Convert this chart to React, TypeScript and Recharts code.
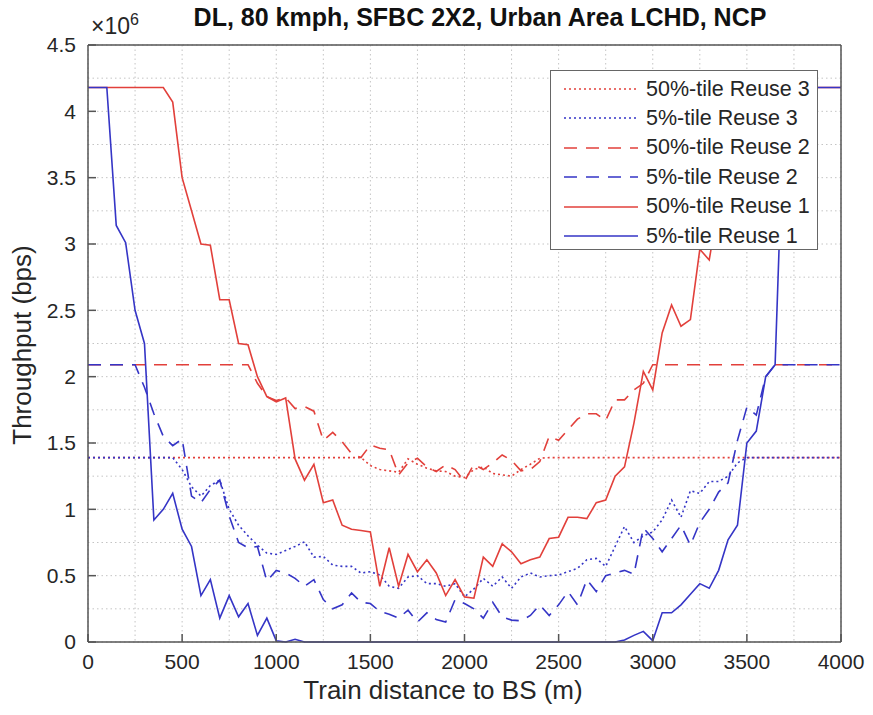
import { CartesianGrid, Line, LineChart, XAxis, YAxis } from "recharts";

const FONT = "'Liberation Sans', Arial, Helvetica, sans-serif";
const RED = "#e2403b";
const BLUE = "#3535c6";

// train distance to BS (m), one sample every 50 m
const DIST = [
  0, 50, 100, 150, 200, 250, 300, 350, 400, 450, 500, 550, 600, 650, 700, 750, 800, 850, 900, 950,
  1000, 1050, 1100, 1150, 1200, 1250, 1300, 1350, 1400, 1450, 1500, 1550, 1600, 1650, 1700, 1750, 1800, 1850, 1900, 1950,
  2000, 2050, 2100, 2150, 2200, 2250, 2300, 2350, 2400, 2450, 2500, 2550, 2600, 2650, 2700, 2750, 2800, 2850, 2900, 2950,
  3000, 3050, 3100, 3150, 3200, 3250, 3300, 3350, 3400, 3450, 3500, 3550, 3600, 3650, 3700, 3750, 3800, 3850, 3900, 3950,
  4000,
];

// throughput, x10^6 bps
const P50_REUSE3 = [
  1.39, 1.39, 1.39, 1.39, 1.39, 1.39, 1.39, 1.39, 1.39, 1.39, 1.39, 1.39, 1.39, 1.39, 1.39, 1.39, 1.39, 1.39, 1.39, 1.39,
  1.39, 1.39, 1.39, 1.39, 1.39, 1.39, 1.39, 1.39, 1.39, 1.39, 1.33, 1.3, 1.29, 1.28, 1.38, 1.34, 1.31, 1.29, 1.285, 1.25,
  1.24, 1.3, 1.32, 1.27, 1.26, 1.25, 1.3, 1.34, 1.385, 1.39, 1.39, 1.39, 1.39, 1.39, 1.39, 1.39, 1.39, 1.39, 1.39, 1.39,
  1.39, 1.39, 1.39, 1.39, 1.39, 1.39, 1.39, 1.39, 1.39, 1.39, 1.39, 1.39, 1.39, 1.39, 1.39, 1.39, 1.39, 1.39, 1.39, 1.39,
  1.39,
];
const P5_REUSE3 = [
  1.39, 1.39, 1.39, 1.39, 1.39, 1.39, 1.39, 1.39, 1.39, 1.39, 1.3, 1.17, 1.1, 1.18, 1.22, 1.0, 0.88, 0.8, 0.73, 0.67,
  0.66, 0.69, 0.72, 0.755, 0.64, 0.645, 0.58, 0.57, 0.57, 0.52, 0.53, 0.505, 0.42, 0.405, 0.49, 0.5, 0.44, 0.44, 0.42, 0.44,
  0.34, 0.4, 0.48, 0.42, 0.49, 0.405, 0.49, 0.52, 0.49, 0.5, 0.505, 0.53, 0.555, 0.62, 0.63, 0.57, 0.72, 0.87, 0.75, 0.8,
  0.83, 0.92, 1.07, 0.94, 1.14, 1.12, 1.21, 1.21, 1.25, 1.35, 1.39, 1.39, 1.39, 1.39, 1.39, 1.39, 1.39, 1.39, 1.39, 1.39,
  1.39,
];
const P50_REUSE2 = [
  2.09, 2.09, 2.09, 2.09, 2.09, 2.09, 2.09, 2.09, 2.09, 2.09, 2.09, 2.09, 2.09, 2.09, 2.09, 2.09, 2.09, 2.09, 1.95, 1.85,
  1.82, 1.84, 1.76, 1.775, 1.74, 1.52, 1.58, 1.51, 1.42, 1.39, 1.485, 1.46, 1.45, 1.26, 1.35, 1.385, 1.32, 1.285, 1.335, 1.3,
  1.21, 1.34, 1.3, 1.35, 1.41, 1.37, 1.29, 1.3, 1.36, 1.55, 1.52, 1.6, 1.68, 1.72, 1.72, 1.67, 1.825, 1.825, 1.9, 1.95,
  2.09, 2.09, 2.09, 2.09, 2.09, 2.09, 2.09, 2.09, 2.09, 2.09, 2.09, 2.09, 2.09, 2.09, 2.09, 2.09, 2.09, 2.09, 2.09, 2.09,
  2.09,
];
const P5_REUSE2 = [
  2.09, 2.09, 2.09, 2.09, 2.09, 2.09, 1.92, 1.72, 1.55, 1.48, 1.53, 1.1, 1.05, 1.15, 1.22, 0.95, 0.75, 0.71, 0.72, 0.46,
  0.54, 0.52, 0.48, 0.42, 0.47, 0.32, 0.25, 0.28, 0.37, 0.3, 0.29, 0.23, 0.21, 0.18, 0.24, 0.15, 0.22, 0.17, 0.15, 0.32,
  0.29, 0.25, 0.18, 0.3, 0.19, 0.165, 0.16, 0.2, 0.28, 0.2, 0.28, 0.38, 0.28, 0.47, 0.38, 0.5, 0.52, 0.54, 0.51, 0.86,
  0.78, 0.68, 0.78, 0.88, 0.73, 0.9, 1.0, 1.13, 1.2, 1.52, 1.77, 1.71, 2.0, 2.09, 2.09, 2.09, 2.09, 2.09, 2.09, 2.09,
  2.09,
];
const P50_REUSE1 = [
  4.18, 4.18, 4.18, 4.18, 4.18, 4.18, 4.18, 4.18, 4.18, 4.07, 3.5, 3.25, 3.0, 2.99, 2.58, 2.58, 2.25, 2.24, 2.0, 1.85,
  1.81, 1.84, 1.38, 1.22, 1.34, 1.05, 1.07, 0.88, 0.85, 0.84, 0.83, 0.42, 0.71, 0.42, 0.66, 0.53, 0.62, 0.52, 0.35, 0.47,
  0.34, 0.33, 0.64, 0.57, 0.74, 0.68, 0.59, 0.62, 0.64, 0.78, 0.79, 0.94, 0.94, 0.93, 1.05, 1.07, 1.25, 1.32, 1.65, 2.04,
  1.9, 2.33, 2.54, 2.38, 2.43, 2.96, 2.88, 3.3, 3.7, 4.05, 4.18, 4.18, 4.18, 4.18, 4.18, 4.18, 4.18, 4.18, 4.18, 4.18,
  4.18,
];
const P5_REUSE1 = [
  4.18, 4.18, 4.18, 3.14, 3.01, 2.5, 2.25, 0.92, 1.0, 1.12, 0.85, 0.72, 0.35, 0.47, 0.18, 0.35, 0.19, 0.29, 0.05, 0.18,
  0.01, 0, 0.02, 0, 0, 0, 0, 0, 0, 0, 0, 0, 0, 0, 0, 0, 0, 0, 0, 0,
  0, 0, 0, 0, 0, 0, 0, 0, 0, 0, 0, 0, 0, 0, 0, 0, 0, 0.015, 0.05, 0.08,
  0.01, 0.22, 0.22, 0.28, 0.36, 0.44, 0.405, 0.54, 0.77, 0.88, 1.5, 1.59, 2.0, 2.09, 4.18, 4.18, 4.18, 4.18, 4.18, 4.18,
  4.18,
];

const X_MAX = 4000;
const Y_MAX = 4.5;
const X_TICKS = [0, 500, 1000, 1500, 2000, 2500, 3000, 3500, 4000];
const Y_TICKS = [0, 0.5, 1, 1.5, 2, 2.5, 3, 3.5, 4, 4.5];
const MINOR_X = [0, 250, 500, 750, 1000, 1250, 1500, 1750, 2000, 2250, 2500, 2750, 3000, 3250, 3500, 3750, 4000];
const MINOR_Y = [0, 0.25, 0.5, 0.75, 1, 1.25, 1.5, 1.75, 2, 2.25, 2.5, 2.75, 3, 3.25, 3.5, 3.75, 4, 4.25, 4.5];

const data = DIST.map((d, i) => ({
  d,
  r3p50: P50_REUSE3[i],
  r3p5: P5_REUSE3[i],
  r2p50: P50_REUSE2[i],
  r2p5: P5_REUSE2[i],
  r1p50: P50_REUSE1[i],
  r1p5: P5_REUSE1[i],
}));

const SERIES = [
  { key: "r3p50", name: "50%-tile Reuse 3", color: RED, dash: "2 3" },
  { key: "r3p5", name: "5%-tile Reuse 3", color: BLUE, dash: "2 3" },
  { key: "r2p50", name: "50%-tile Reuse 2", color: RED, dash: "13 9" },
  { key: "r2p5", name: "5%-tile Reuse 2", color: BLUE, dash: "13 9" },
  { key: "r1p50", name: "50%-tile Reuse 1", color: RED, dash: undefined },
  { key: "r1p5", name: "5%-tile Reuse 1", color: BLUE, dash: undefined },
];

const tickStyle = { fill: "#262626", fontSize: 21, fontFamily: FONT };
const AXIS = "#555";

// minor + major dotted grid, like matlab's grid minor
function gridX({ xAxis, offset }: any) {
  if (xAxis && typeof xAxis.scale === "function") return MINOR_X.map((v) => xAxis.scale(v));
  return MINOR_X.map((v) => offset.left + (offset.width * v) / X_MAX);
}
function gridY({ yAxis, offset }: any) {
  if (yAxis && typeof yAxis.scale === "function") return MINOR_Y.map((v) => yAxis.scale(v));
  return MINOR_Y.map((v) => offset.top + offset.height * (1 - v / Y_MAX));
}

function MatlabLegend() {
  return (
    <div
      style={{
        position: "absolute",
        left: 550,
        top: 70,
        width: 266,
        height: 178,
        background: "#fff",
        border: "1.5px solid #666",
        fontFamily: FONT,
        fontSize: 21.5,
        color: "#262626",
      }}
    >
      {SERIES.map((s, i) => (
        <div key={s.key} style={{ position: "absolute", left: 0, top: 4 + i * 29.4, height: 28, display: "flex", alignItems: "center", whiteSpace: "nowrap" }}>
          <svg width={95} height={6} style={{ display: "block" }}>
            <line x1={13} x2={87} y1={3} y2={3} stroke={s.color} strokeWidth={1.6} strokeDasharray={s.dash} />
          </svg>
          <span>{s.name}</span>
        </div>
      ))}
    </div>
  );
}

export default function App() {
  return (
    <div style={{ position: "absolute", left: 0, top: 0, width: 873, height: 715, background: "#fff", fontFamily: FONT }}>
      <LineChart width={873} height={715} data={data} margin={{ top: 44, right: 31, bottom: 0, left: 0 }}>
        <CartesianGrid
          stroke="#c4c4c4"
          strokeDasharray="1.5 3"
          verticalCoordinatesGenerator={gridX}
          horizontalCoordinatesGenerator={gridY}
        />
        <XAxis
          dataKey="d"
          type="number"
          domain={[0, X_MAX]}
          ticks={X_TICKS}
          interval={0}
          height={73}
          stroke={AXIS}
          strokeWidth={1.5}
          tickSize={-8}
          tickMargin={20}
          tick={tickStyle}
        />
        <XAxis
          xAxisId="top"
          dataKey="d"
          orientation="top"
          type="number"
          domain={[0, X_MAX]}
          ticks={X_TICKS}
          interval={0}
          height={1}
          stroke={AXIS}
          strokeWidth={1.5}
          tickSize={-8}
          tick={false}
        />
        <YAxis
          type="number"
          domain={[0, Y_MAX]}
          ticks={Y_TICKS}
          interval={0}
          width={88}
          stroke={AXIS}
          strokeWidth={1.5}
          tickSize={-8}
          tickMargin={20}
          tick={tickStyle}
        />
        <YAxis
          yAxisId="right"
          orientation="right"
          type="number"
          domain={[0, Y_MAX]}
          ticks={Y_TICKS}
          interval={0}
          width={1}
          stroke={AXIS}
          strokeWidth={1.5}
          tickSize={-8}
          tick={false}
        />
        {/* invisible copy bound to the top/right axes so they keep their domain */}
        <Line
          xAxisId="top"
          yAxisId="right"
          dataKey="r3p50"
          stroke="none"
          dot={false}
          activeDot={false}
          isAnimationActive={false}
        />
        {SERIES.map((s) => (
          <Line
            key={s.key}
            type="linear"
            dataKey={s.key}
            name={s.name}
            stroke={s.color}
            strokeWidth={1.6}
            strokeDasharray={s.dash}
            dot={false}
            activeDot={false}
            isAnimationActive={false}
          />
        ))}
      </LineChart>

      <div style={{ position: "absolute", left: 480, top: 3, transform: "translateX(-50%)", fontSize: 25, fontWeight: "bold", color: "#111", whiteSpace: "nowrap" }}>
        DL, 80 kmph, SFBC 2X2, Urban Area LCHD, NCP
      </div>
      <div style={{ position: "absolute", left: 91, top: 11, fontSize: 23, color: "#262626", whiteSpace: "nowrap" }}>
        ×10<sup style={{ fontSize: 16 }}>6</sup>
      </div>
      <div
        style={{
          position: "absolute",
          left: 22,
          top: 345,
          transform: "translate(-50%, -50%) rotate(-90deg)",
          fontSize: 26,
          color: "#262626",
          whiteSpace: "nowrap",
        }}
      >
        Throughput (bps)
      </div>
      <div style={{ position: "absolute", left: 443, top: 690, transform: "translate(-50%, -50%)", fontSize: 26, color: "#262626", whiteSpace: "nowrap" }}>
        Train distance to BS (m)
      </div>
      <MatlabLegend />
    </div>
  );
}
